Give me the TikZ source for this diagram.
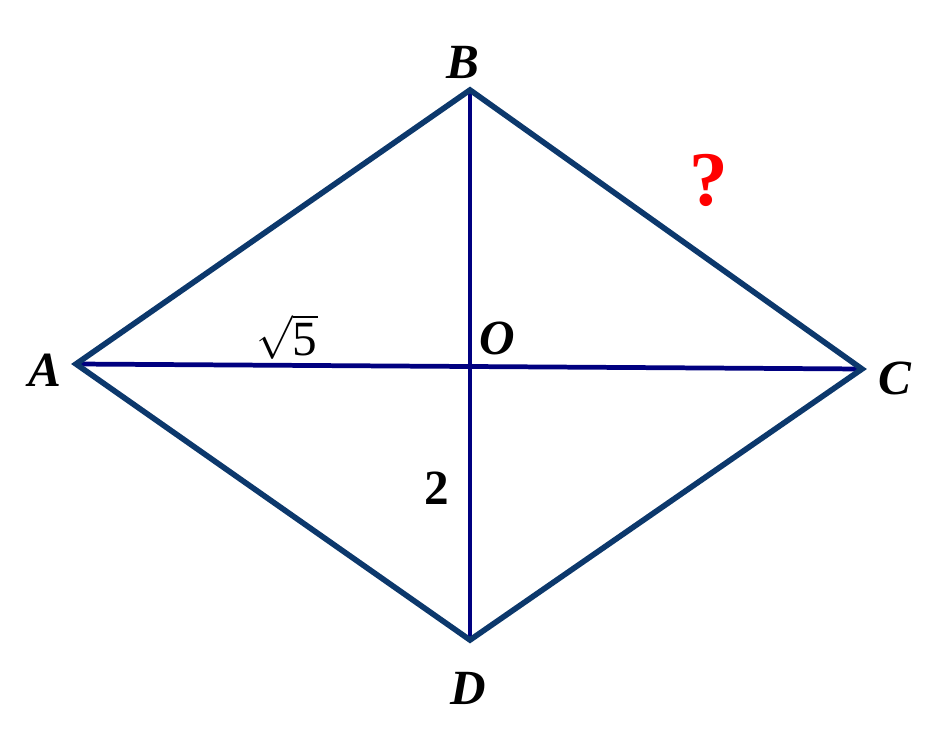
\documentclass[tikz,border=0pt]{standalone}
\usepackage{fontspec}
\setmainfont{Liberation Serif}
\usepackage{tikz}
\usetikzlibrary{calc}
\definecolor{sidecol}{RGB}{12,56,108}
\definecolor{diagcol}{RGB}{0,0,128}

\begin{document}
\begin{tikzpicture}[x=0.02cm,y=-0.02cm,
	lab/.style={font=\fontsize{28}{32}\selectfont\bfseries\itshape},
	num/.style={font=\fontsize{28}{32}\selectfont}]
		\useasboundingbox (0,0) rectangle (940,743);
		% Ecken
		\coordinate (A) at (76,364);
		\coordinate (B) at (470,90);
		\coordinate (C) at (862,369);
		\coordinate (D) at (470,640);
		\coordinate (O) at (470,367);
		
		% Diagonalen
		\draw[diagcol,line width=2.7pt] (A) -- (C);
		\draw[diagcol,line width=2.7pt] (B) -- (D);
		% Seiten
		\draw[sidecol,line width=3.2pt,line join=miter] (A) -- (B) -- (C) -- (D) -- cycle;
		
		% Beschriftungen
		\node[lab] (lA) at (45,370) {A};
		\node[lab] (lB) at (463,62) {B};
		\node[lab] (lC) at (895,378) {C};
		\node[lab] (lD) at (468,688) {D};
		\node[lab] (lO) at (497,338) {O};
		\node[num] (l5) at (287,337) {$\sqrt{\mbox{5}}$};
		\node[num,font=\fontsize{28}{32}\selectfont\bfseries] (l2) at (437,488) {2};
		\node[red,font=\fontsize{44}{48}\selectfont\bfseries] (lq) at (709,180) {?};
	\end{tikzpicture}
\end{document}
